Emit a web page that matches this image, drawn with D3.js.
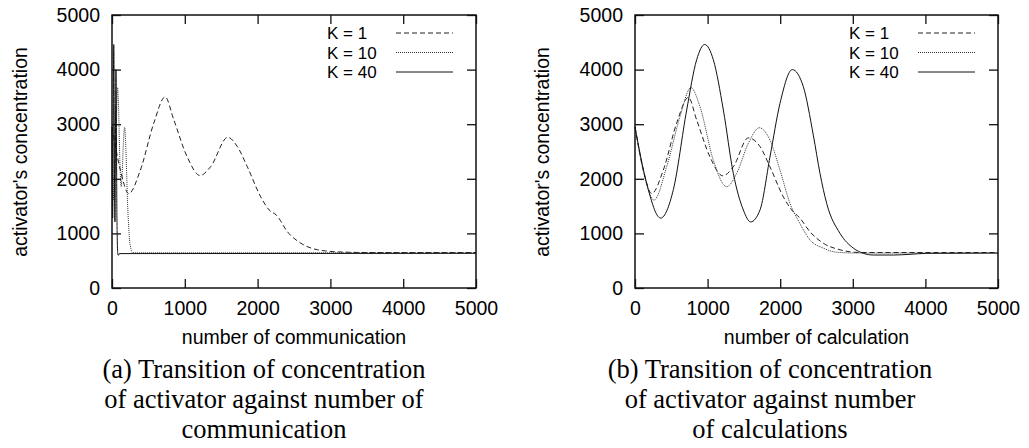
<!DOCTYPE html>
<html>
<head>
<meta charset="utf-8">
<script src="https://cdn.jsdelivr.net/npm/d3@7"></script>
<style>
  body { margin: 0; background: #fff; }
  svg { display: block; }
  .tick text { font-family: "Liberation Sans", Arial, sans-serif; font-size: 19.5px; fill: #000; }
  .lbl { font-family: "Liberation Sans", Arial, sans-serif; font-size: 19.5px; fill: #000; }
  .leg { font-family: "Liberation Sans", Arial, sans-serif; font-size: 17px; fill: #000; }
  .cap { font-family: "Liberation Serif", "Times New Roman", serif; font-size: 26.5px; fill: #000; }
</style>
</head>
<body>
<svg id="fig" width="1029" height="448"></svg>
<script>
// values: [x, activator's concentration]
const X_TICKS = [0, 1000, 2000, 3000, 4000, 5000];
const Y_TICKS = [0, 1000, 2000, 3000, 4000, 5000];
const SERIES_NAMES = ["K = 1", "K = 10", "K = 40"];

// (a) against number of communication
const commK1 = [[0,2950],[115,2160],[230,1730],[390,2160],[574,3020],[730,3500],[849,3080],[1033,2400],[1210,2060],[1354,2220],[1590,2760],[1722,2590],[1859,2220],[2043,1670],[2158,1430],[2262,1330],[2410,1030],[2594,820],[2824,700],[3130,660],[3500,650],[5000,650]];
const commK10 = [[0,2950],[13,2050],[26,1610],[44,2220],[62,3140],[77,3670],[90,3320],[108,2340],[126,1855],[140,2100],[156,2650],[174,2950],[186,2710],[200,2160],[214,1550],[227,1180],[241,880],[259,730],[275,650],[310,645],[5000,645]];
const commK40 = [[0,2950],[4,1920],[9,1280],[13,1800],[18,3260],[21,4180],[24,4460],[27,4180],[30,3260],[34,2100],[37,1430],[40,1210],[43,1430],[46,2400],[50,3380],[54,4000],[58,3690],[61,2770],[64,2040],[66,1550],[71,1000],[75,730],[79,635],[84,600],[92,605],[100,630],[5000,635]];

// (b) against number of calculation
const calcK1 = [[0,2950],[115,2160],[230,1730],[390,2160],[574,3020],[735,3490],[849,3080],[1033,2400],[1210,2055],[1354,2220],[1561,2750],[1722,2590],[1859,2220],[2043,1670],[2158,1430],[2272,1280],[2410,1030],[2594,820],[2824,700],[3100,650],[3500,650],[5000,650]];
const calcK10 = [[0,2950],[130,2050],[262,1610],[436,2220],[620,3140],[771,3670],[895,3320],[1079,2340],[1263,1855],[1400,2100],[1561,2650],[1712,2935],[1859,2710],[1997,2160],[2135,1550],[2272,1180],[2410,880],[2594,730],[2778,655],[3100,640],[5000,640]];
const calcK40 = [[0,2950],[160,1920],[353,1280],[528,1800],[712,3260],[849,4180],[960,4460],[1079,4180],[1217,3260],[1354,2100],[1492,1430],[1593,1210],[1722,1430],[1859,2400],[1997,3380],[2167,4000],[2318,3690],[2456,2800],[2548,2100],[2640,1550],[2824,1000],[3008,730],[3146,635],[3283,604],[3559,604],[3789,617],[4018,635],[5000,640]];

const STYLES = [
  { dash: "5,3", color: "#222" },
  { dash: "1,1", color: "#333" },
  { dash: null, color: "#111" },
];

const svg = d3.select("#fig");

function drawPanel(p) {
  const height = 273;
  const top = 15;
  const x = d3.scaleLinear().domain([0, 5000]).range([0, p.width]);
  const y = d3.scaleLinear().domain([0, 5000]).range([height, 0]);
  const fmt = d3.format("d");

  const g = svg.append("g").attr("transform", `translate(${p.left},${top})`);

  // axes, ticks pointing inward like gnuplot
  const bottom = g.append("g").attr("transform", `translate(0,${height})`)
    .call(d3.axisBottom(x).tickValues(X_TICKS).tickFormat(fmt).tickSizeInner(-9).tickSizeOuter(0).tickPadding(13));
  const left = g.append("g")
    .call(d3.axisLeft(y).tickValues(Y_TICKS).tickFormat(fmt).tickSizeInner(-9).tickSizeOuter(0).tickPadding(12));
  const topAx = g.append("g")
    .call(d3.axisTop(x).tickValues(X_TICKS).tickSizeInner(-9).tickSizeOuter(0).tickFormat(""));
  const rightAx = g.append("g").attr("transform", `translate(${p.width},0)`)
    .call(d3.axisRight(y).tickValues(Y_TICKS).tickSizeInner(-9).tickSizeOuter(0).tickFormat(""));
  [bottom, left, topAx, rightAx].forEach((a) => {
    a.select(".domain").remove();
    a.selectAll(".tick line").attr("stroke", "#111").attr("stroke-width", 1.3);
  });

  const line = d3.line()
    .x((d) => x(d[0]))
    .y((d) => y(d[1]))
    .curve(d3.curveMonotoneX);

  p.series.forEach((s, i) => {
    g.append("path")
      .datum(s)
      .attr("fill", "none")
      .attr("stroke", STYLES[i].color)
      .attr("stroke-width", 1)
      .attr("stroke-dasharray", STYLES[i].dash)
      .attr("d", line);
  });

  // frame
  g.append("rect")
    .attr("width", p.width)
    .attr("height", height)
    .attr("fill", "none")
    .attr("stroke", "#111")
    .attr("stroke-width", 1.5);

  // legend
  SERIES_NAMES.forEach((name, i) => {
    const ry = 18 + i * 19.5;
    g.append("text").attr("class", "leg")
      .attr("x", p.width - 149).attr("y", ry + 6).text(name);
    g.append("line")
      .attr("x1", p.width - 80).attr("x2", p.width - 23)
      .attr("y1", ry).attr("y2", ry)
      .attr("stroke", STYLES[i].color)
      .attr("stroke-width", 1)
      .attr("stroke-dasharray", STYLES[i].dash);
  });

  // axis titles
  svg.append("text").attr("class", "lbl")
    .attr("text-anchor", "middle")
    .attr("x", p.left + p.width / 2).attr("y", 344)
    .text(p.xLabel);
  svg.append("text").attr("class", "lbl")
    .attr("text-anchor", "middle")
    .attr("transform", `translate(${p.yLabelX},152) rotate(-90)`)
    .attr("dy", "0.35em")
    .text("activator's concentration");

  // caption
  p.caption.forEach((t, i) => {
    svg.append("text").attr("class", "cap")
      .attr("text-anchor", "middle")
      .attr("x", p.captionX).attr("y", 378 + i * 30)
      .text(t);
  });
}

drawPanel({
  left: 112, width: 364,
  series: [commK1, commK10, commK40],
  xLabel: "number of communication",
  yLabelX: 20,
  captionX: 264,
  caption: ["(a) Transition of concentration", "of activator against number of", "communication"],
});

drawPanel({
  left: 635, width: 363,
  series: [calcK1, calcK10, calcK40],
  xLabel: "number of calculation",
  yLabelX: 542,
  captionX: 770,
  caption: ["(b) Transition of concentration", "of activator against number", "of calculations"],
});
</script>
</body>
</html>
